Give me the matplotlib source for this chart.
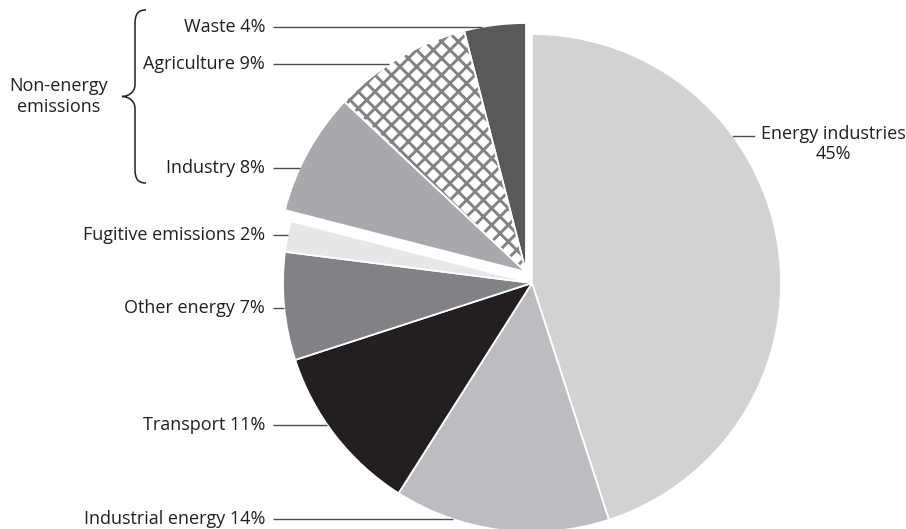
import numpy as np
import matplotlib.pyplot as plt
from matplotlib.path import Path
from matplotlib.patches import PathPatch, Wedge

plt.rcParams["font.family"] = ["Open Sans", "DejaVu Sans"]
plt.rcParams["hatch.linewidth"] = 2.1

# emission shares, clockwise from 12 o'clock
sectors = [
	"Energy industries",
	"Industrial energy",
	"Transport",
	"Other energy",
	"Fugitive emissions",
	"Industry",
	"Agriculture",
	"Waste",
]
shares = [45, 14, 11, 7, 2, 8, 9, 4]
non_energy = ["Industry", "Agriculture", "Waste"]

colors = ["#d1d2d4", "#bcbdc0", "#231f20", "#808285", "#e6e7e8", "#a7a9ac", "#ffffff", "#58595b"]
hatch_color = "#808285"
text_color = "#231f20"
line_color = "#4d4d4f"

W, H = 906, 529
center = np.array([532.0, 283.0])
radius = 249.0
group_shift = np.array([-6.0, -11.0])
font_size = 13

# label rows on the left (y in pixels from the top)
left_label_y = {
	"Waste": 27,
	"Agriculture": 64,
	"Industry": 168,
	"Fugitive emissions": 235,
	"Other energy": 308,
	"Transport": 425,
	"Industrial energy": 519,
}
label_right = 265
line_start = 273

fig = plt.figure(figsize=(W / 100, H / 100), dpi=100)
ax = fig.add_axes([0, 0, 1, 1])

# y axis is flipped, so counterclock=True runs clockwise on screen and -90 is the top
wedges, _ = ax.pie(
	shares,
	colors=colors,
	startangle=-90,
	counterclock=True,
	radius=radius,
	center=tuple(center),
	wedgeprops=dict(edgecolor="white", linewidth=1.3),
	frame=True,
)
ax.set_xlim(0, W)
ax.set_ylim(H, 0)  # pixel-style coordinates, y grows downward
ax.set_aspect("equal")
ax.axis("off")

# non-energy sectors are pulled out together as one block
for name, w in zip(sectors, wedges):
	if name in non_energy:
		w.set_center(tuple(center + group_shift))

agri = wedges[sectors.index("Agriculture")]
ax.add_patch(
	Wedge(
		agri.center, agri.r, agri.theta1, agri.theta2,
		facecolor="none", edgecolor=hatch_color, hatch="xx", linewidth=0, zorder=agri.get_zorder() + 0.1,
	)
)
ax.add_patch(
	Wedge(
		agri.center, agri.r, agri.theta1, agri.theta2,
		facecolor="none", edgecolor="white", linewidth=1.3, zorder=agri.get_zorder() + 0.2,
	)
)


def edge_x(y, c):
	return c[0] - np.sqrt(radius ** 2 - (y - c[1]) ** 2)


for name, share in zip(sectors, shares):
	if name not in left_label_y:
		continue
	y = left_label_y[name]
	c = center + group_shift if name in non_energy else center
	ax.text(label_right, y, f"{name} {share}%", ha="right", va="center", fontsize=font_size, color=text_color)
	ax.plot([line_start, edge_x(y, c)], [y, y], color=line_color, linewidth=1.0, solid_capstyle="butt")

# right-hand label for the big slice
ey = 136
ex = center[0] + np.sqrt(radius ** 2 - (ey - center[1]) ** 2)
ax.plot([ex, 754], [ey, ey], color=line_color, linewidth=1.0)
ax.text(761, ey - 11, f"{sectors[0]}\n{shares[0]}%", ha="left", va="top", multialignment="center",
		fontsize=font_size, color=text_color, linespacing=1.15)

# curly brace grouping the non-energy rows
bx, top, bot, tip_x = 135, 10, 183, 122
mid = (top + bot) / 2
verts = [
	(bx + 11, top), (bx + 3, top), (bx, top + 4), (bx, top + 14),
	(bx, mid - 12),
	(bx, mid - 4), (tip_x + 6, mid), (tip_x, mid),
	(tip_x + 6, mid), (bx, mid + 4), (bx, mid + 12),
	(bx, bot - 14),
	(bx, bot - 4), (bx + 3, bot), (bx + 11, bot),
]
codes = [Path.MOVETO, Path.CURVE4, Path.CURVE4, Path.CURVE4, Path.LINETO,
		 Path.CURVE4, Path.CURVE4, Path.CURVE4, Path.CURVE4, Path.CURVE4, Path.CURVE4,
		 Path.LINETO, Path.CURVE4, Path.CURVE4, Path.CURVE4]
ax.add_patch(PathPatch(Path(verts, codes), facecolor="none", edgecolor=text_color, linewidth=1.1))
ax.text(59, mid, "Non-energy\nemissions", ha="center", va="center", fontsize=font_size,
		color=text_color, linespacing=1.15)

fig.savefig("out.png", dpi=100)
